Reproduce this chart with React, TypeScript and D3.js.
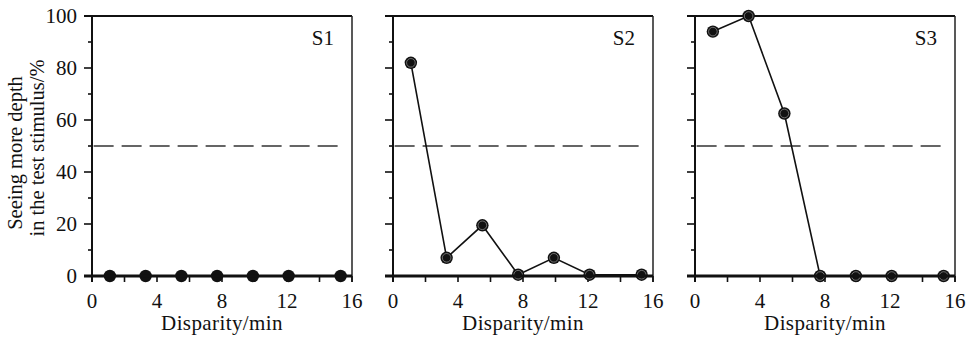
import React from 'react';
import * as d3 from 'd3';

// disparity values (min of arc), shared by all three observers
const disparity = [1.1, 3.3, 5.5, 7.7, 9.9, 12.1, 15.3];

// percent of trials seeing more depth in the test stimulus
const s1Values = [0, 0, 0, 0, 0, 0, 0];
const s2Values = [82, 7, 19.5, 0.5, 7, 0.5, 0.5];
const s3Values = [94, 100, 62.5, 0, 0, 0, 0];

const panelNames = ['S1', 'S2', 'S3'];
const panelSeries = [s1Values, s2Values, s3Values];

const xTickLabels = [0, 4, 8, 12, 16];
const xTickAll = [0, 2, 4, 6, 8, 10, 12, 14, 16];
const yTickLabels = [0, 20, 40, 60, 80, 100];
const yTickAll = [0, 10, 20, 30, 40, 50, 60, 70, 80, 90, 100];
const chanceLevel = 50;

const W = 975;
const H = 338;
const panelLefts = [92, 393, 695];
const panelWidth = 260;
const top = 16;
const bottom = 276;
const FONT = 'Liberation Serif';

function Panel({ left, name, values, showYLabels }: { left: number; name: string; values: number[]; showYLabels: boolean }) {
  const x = d3.scaleLinear().domain([0, 16]).range([left, left + panelWidth]);
  const y = d3.scaleLinear().domain([0, 100]).range([bottom, top]);
  const line = d3.line<number>()
    .x((_, i) => x(disparity[i]))
    .y(d => y(d));
  const ringed = name !== 'S1';

  return (
    <g>
      {/* dashed 50% reference */}
      <line x1={x(0.1)} x2={x(15.5)} y1={y(chanceLevel)} y2={y(chanceLevel)}
        stroke="#333" strokeWidth={1.4} strokeDasharray="20,8" />

      {/* frame */}
      <line x1={x(0) - 8} x2={x(16)} y1={y(100)} y2={y(100)} stroke="#111" strokeWidth={2.2} />
      <line x1={x(16)} x2={x(16)} y1={y(100)} y2={y(0) + 6} stroke="#222" strokeWidth={1.5} />
      <line x1={x(0)} x2={x(0)} y1={y(100) - 1} y2={y(0) + 6} stroke="#111" strokeWidth={2} />

      {/* y ticks */}
      {yTickAll.map(t => (
        <line key={'yt' + t} x1={x(0) - (t % 20 === 0 ? 8 : 4)} x2={x(0)} y1={y(t)} y2={y(t)}
          stroke="#111" strokeWidth={1.6} />
      ))}
      {showYLabels && yTickLabels.map(t => (
        <text key={'yl' + t} x={x(0) - 15} y={y(t)} dy="0.35em" textAnchor="end"
          style={{ fontFamily: FONT }} fontSize={21} fill="#111">{t}</text>
      ))}

      {/* x ticks */}
      {xTickAll.map(t => (
        <line key={'xt' + t} x1={x(t)} x2={x(t)} y1={y(0)} y2={y(0) + 6}
          stroke="#111" strokeWidth={1.6} />
      ))}
      {xTickLabels.map(t => (
        <text key={'xl' + t} x={x(t)} y={308} textAnchor="middle"
          style={{ fontFamily: FONT }} fontSize={21} fill="#111">{t}</text>
      ))}
      <text x={x(8)} y={330} textAnchor="middle" style={{ fontFamily: FONT }} fontSize={21}
        letterSpacing={0.4} fill="#111">Disparity/min</text>

      {/* data */}
      <path d={line(values) || ''} fill="none" stroke="#111" strokeWidth={1.6} />
      {values.map((v, i) => (
        <g key={'pt' + i}>
          <circle cx={x(disparity[i])} cy={y(v)} r={6.2} fill="#111" />
          {ringed && <circle cx={x(disparity[i])} cy={y(v)} r={4.3} fill="none" stroke="#aaa" strokeWidth={0.6} />}
        </g>
      ))}

      {/* bottom axis, thick */}
      <line x1={x(0) - 8} x2={x(16)} y1={y(0)} y2={y(0)} stroke="#111" strokeWidth={3} />

      <text x={x(16) - 18} y={45} textAnchor="end" style={{ fontFamily: FONT }} fontSize={21} fill="#111">{name}</text>
    </g>
  );
}

export default function App() {
  return (
    <svg width={W} height={H} style={{ display: 'block', position: 'absolute', left: 0, top: 0, background: '#fff' }}>
      <rect width={W} height={H} fill="#fff" />
      {panelSeries.map((vals, i) => (
        <Panel key={panelNames[i]} left={panelLefts[i]} name={panelNames[i]} values={vals} showYLabels={i === 0} />
      ))}
      <text transform={`translate(22,${(top + bottom) / 2 + 7}) rotate(-90)`} textAnchor="middle"
        style={{ fontFamily: FONT }} fontSize={20.5} fill="#111">Seeing more depth</text>
      <text transform={`translate(44,${(top + bottom) / 2 + 2}) rotate(-90)`} textAnchor="middle"
        style={{ fontFamily: FONT }} fontSize={20.5} fill="#111">in the test stimulus/%</text>
    </svg>
  );
}
